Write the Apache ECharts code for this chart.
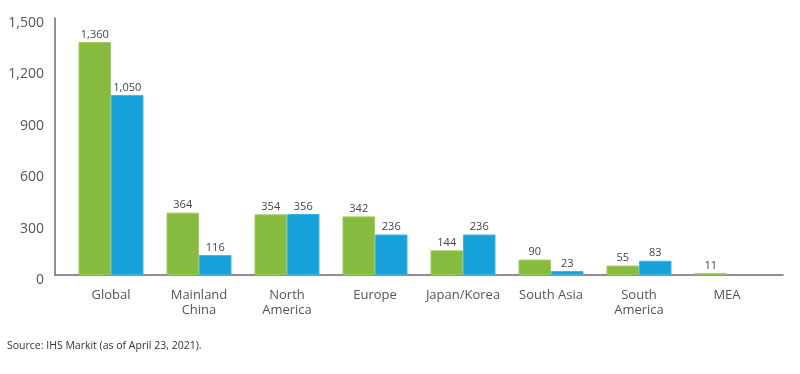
<!DOCTYPE html>
<html>
<head>
<meta charset="utf-8">
<style>
  html, body { margin: 0; padding: 0; background: #ffffff; }
  #chart { width: 800px; height: 374px; }
</style>
<script src="https://cdn.jsdelivr.net/npm/echarts@6/dist/echarts.min.js"></script>
</head>
<body>
<div id="chart"></div>
<script>
const categories = ['Global', 'Mainland\nChina', 'North\nAmerica', 'Europe', 'Japan/Korea', 'South Asia', 'South\nAmerica', 'MEA'];
const seriesGreen = [1360, 364, 354, 342, 144, 90, 55, 11];
const seriesBlue = [1050, 116, 356, 236, 236, 23, 83, null];
const yTicks = { min: 0, max: 1500, interval: 300 };
const sourceText = 'Source: IHS Markit (as of April 23, 2021).';

const fmt = v => Number(v).toLocaleString('en-US');
const FONT = '"Open Sans", "Noto Sans", sans-serif';
const axisColor = '#6b6b6b';

const chart = echarts.init(document.getElementById('chart'), null, { renderer: 'canvas' });

const labelStyle = {
  show: true,
  position: 'top',
  distance: 2,
  color: '#444',
  fontSize: 11,
  fontFamily: FONT,
  formatter: p => fmt(p.value)
};

chart.setOption({
  animation: false,
  backgroundColor: '#ffffff',
  title: {
    text: sourceText,
    left: 7,
    top: 341,
    padding: 0,
    textStyle: { fontSize: 10.5, fontWeight: 'normal', color: '#333', fontFamily: FONT }
  },
  grid: [
    { left: 55, right: 17, top: 18, bottom: 99, containLabel: false },
    { left: 67, right: 29, top: 18, bottom: 99, containLabel: false }
  ],
  xAxis: [
    {
      gridIndex: 0,
      type: 'category',
      data: categories,
      axisLine: { show: true, lineStyle: { color: axisColor, width: 1.5 } },
      axisTick: { show: false },
      axisLabel: { show: false },
      splitLine: { show: false }
    },
    {
      gridIndex: 1,
      type: 'category',
      data: categories,
      axisLine: { show: false },
      axisTick: { show: false },
      axisLabel: {
        show: true,
        interval: 0,
        margin: 13,
        color: '#555',
        fontSize: 13,
        lineHeight: 15,
        fontFamily: FONT
      }
    }
  ],
  yAxis: [
    {
      gridIndex: 0,
      type: 'value',
      min: yTicks.min,
      max: yTicks.max,
      interval: yTicks.interval,
      axisLine: { show: true, lineStyle: { color: axisColor, width: 1.5 } },
      axisTick: { show: false },
      splitLine: { show: false },
      axisLabel: {
        margin: 11,
        color: '#555',
        fontSize: 14,
        lineHeight: 10,
        verticalAlign: 'top',
        fontFamily: FONT,
        formatter: v => fmt(v)
      }
    },
    {
      gridIndex: 1,
      type: 'value',
      min: yTicks.min,
      max: yTicks.max,
      interval: yTicks.interval,
      show: false
    }
  ],
  series: [
    {
      name: 'Series 1',
      type: 'bar',
      xAxisIndex: 1,
      yAxisIndex: 1,
      data: seriesGreen,
      barWidth: 32.5,
      barGap: '0%',
      itemStyle: { color: '#86BB3F', borderColor: '#9CCB5C', borderWidth: 1 },
      label: labelStyle
    },
    {
      name: 'Series 2',
      type: 'bar',
      xAxisIndex: 1,
      yAxisIndex: 1,
      data: seriesBlue,
      barWidth: 32.5,
      barGap: '0%',
      itemStyle: { color: '#17A1DB', borderColor: '#3DB2E4', borderWidth: 1 },
      label: labelStyle
    }
  ]
});
</script>
</body>
</html>
